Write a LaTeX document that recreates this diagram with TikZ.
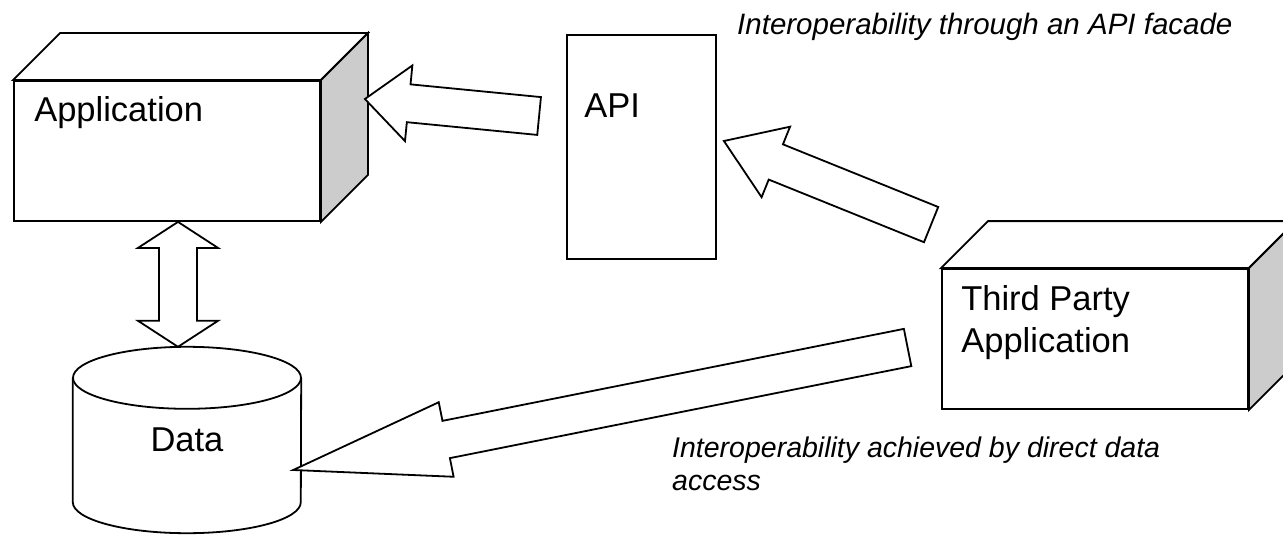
\documentclass[tikz,border=0pt]{standalone}
\usepackage{fontspec}
\setmainfont{Liberation Sans}
\usepackage{tikz}
\usetikzlibrary{calc}
\usetikzlibrary{positioning}
\newcommand\biglabel{\fontsize{34.5}{42}\selectfont}
\newcommand\notelabel{\fontsize{28.5}{33}\selectfont\itshape}
\tikzset{
	solidbox/.style={draw, line width=1.8pt, fill=white, minimum width=306pt, minimum height=140pt, inner sep=0pt},
	sideface/.style={draw, line width=1.8pt, fill=black!20},
	topface/.style={draw, line width=1.8pt, fill=white},
	blockarrow/.style={draw, line width=1.8pt, fill=white, line join=miter},
	boxtext/.style={font=\biglabel, inner sep=0pt, align=left},
	note/.style={font=\notelabel, inner sep=0pt, align=left},
}
% top and side faces of a box node
\newcommand\boxfaces[1]{%
	\draw[topface] (#1.north west) -- ([shift={(47,-47)}]#1.north west) -- ([shift={(47,-47)}]#1.north east) -- (#1.north east) -- cycle;
	\draw[sideface] (#1.north east) -- ([shift={(47,-47)}]#1.north east) -- ([shift={(47,-47)}]#1.south east) -- (#1.south east) -- cycle;
}
% hollow arrow: tail, tip, half shaft, half head, head length
\newcommand\blockarrow[5]{%
	\coordinate (ba head) at ($(#2)!#5!(#1)$);
	\draw[blockarrow] ($(#1)!#3!90:(#2)$) -- ($(ba head)!#3!90:(#2)$) -- ($(ba head)!#4!90:(#2)$) -- (#2)
	-- ($(ba head)!#4!-90:(#2)$) -- ($(ba head)!#3!-90:(#2)$) -- ($(#1)!#3!-90:(#2)$) -- cycle;
}
% hollow arrow with two heads
\newcommand\dblockarrow[5]{%
	\coordinate (ba head a) at ($(#1)!#5!(#2)$);
	\coordinate (ba head b) at ($(#2)!#5!(#1)$);
	\draw[blockarrow] (#1) -- ($(ba head a)!#4!90:(#2)$) -- ($(ba head a)!#3!90:(#2)$) -- ($(ba head b)!#3!90:(#2)$) -- ($(ba head b)!#4!90:(#2)$) -- (#2)
	-- ($(ba head b)!#4!-90:(#2)$) -- ($(ba head b)!#3!-90:(#2)$) -- ($(ba head a)!#3!-90:(#2)$) -- ($(ba head a)!#4!-90:(#2)$) -- cycle;
}

\begin{document}
\begin{tikzpicture}[x=1pt, y=-1pt]
	\useasboundingbox (0,0) rectangle (1283,535);
	\clip (0,0) rectangle (1283,535);
	%
	\node[solidbox] (app) at (167,151) {};
	\boxfaces{app}
	\node[boxtext, below right=16pt and 21pt of app.north west] (app label) {Application};
	%
	\node[solidbox, minimum width=149pt, minimum height=224pt] (api) at (641.5,147) {};
	\node[boxtext, below right=59pt and 18pt of api.north west] (api label) {API};
	%
	\node[solidbox] (third) at (1095,339) {};
	\boxfaces{third}
	\node[boxtext, below right=17pt and 20pt of third.north west] (third label) {Third Party\\Application};
	%
	\node[font=\biglabel, inner sep=0pt, minimum width=228pt, minimum height=186pt] (data) at (187,440) {Data};
	\draw[line width=1.8pt] ([shift={(0,31)}]data.north west) -- ([shift={(0,-31)}]data.south west)
		arc[start angle=180, end angle=0, x radius=114, y radius=31] -- ([shift={(0,31)}]data.north east);
	\draw[line width=1.8pt] ([shift={(0,31)}]data.north) ellipse[x radius=114, y radius=31];
	%
	\coordinate (app bottom) at ([xshift=11pt]app.south);
	\coordinate (data top) at (app bottom |- data.north);
	\dblockarrow{app bottom}{data top}{19pt}{40pt}{26pt}
	%
	\coordinate (api tail) at ([shift={(-27,-31)}]api.west);
	\coordinate (app tip) at ([shift={(44,-52)}]app.east);
	\blockarrow{api tail}{app tip}{19pt}{38pt}{44pt}
	%
	\coordinate (third tail a) at ([shift={(-10,-43.5)}]third.north west);
	\coordinate (api tip) at ([shift={(7,-6)}]api.east);
	\blockarrow{third tail a}{api tip}{19pt}{38pt}{56pt}
	%
	\coordinate (third tail b) at ([shift={(-33.5,8.5)}]third.west);
	\coordinate (data tip) at ([shift={(-8,30)}]data.east);
	\blockarrow{third tail b}{data tip}{19pt}{38pt}{156pt}
	%
	\node[note, font=\fontsize{29.5}{34}\selectfont\itshape, anchor=base west] (api note) at (737,35) {Interoperability through an API facade};
	\node[note, anchor=base west] (data note) at (672,490) {Interoperability achieved by direct data\\access};
\end{tikzpicture}
\end{document}
